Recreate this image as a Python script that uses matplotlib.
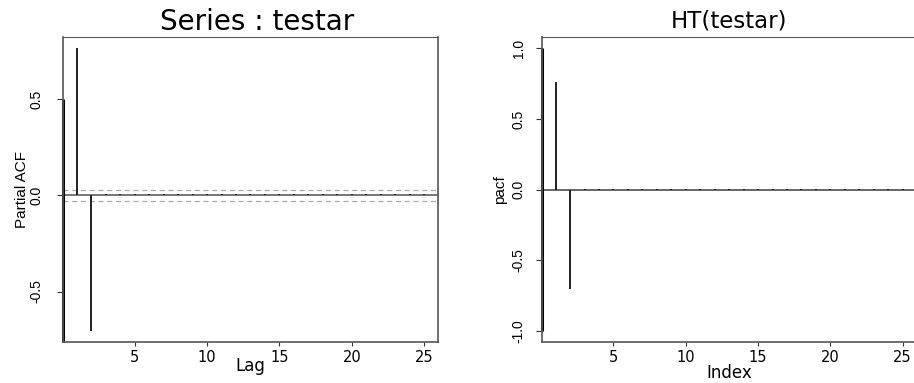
import matplotlib
matplotlib.use("Agg")
import matplotlib.pyplot as plt

# partial autocorrelations of testar, lags 1..25
lags = list(range(1, 26))
pacf_left = [0.766, -0.704, 0.006, 0.006, 0.006, 0.006, 0.006, 0.006, 0.006,
             0.006, 0.006, 0.006, 0.006, 0.006, 0.006, 0.006, 0.006, 0.006,
             0.006, 0.006, 0.006, 0.006, 0.006, 0.006, 0.006]
pacf_right = [0.760, -0.703, 0.006, 0.006, 0.006, 0.006, 0.006, 0.006, 0.006,
              0.006, 0.006, 0.006, 0.006, 0.006, 0.006, 0.006, 0.006, 0.006,
              0.006, 0.006, 0.006, 0.006, 0.006, 0.006, 0.006]
ci = 0.029

left_yticks = [-0.5, 0.0, 0.5]
left_yticklabels = ["-0.5", "0.0", "0.5"]
right_yticks = [-1.0, -0.5, 0.0, 0.5, 1.0]
right_yticklabels = ["-1.0", "-0.5", "0.0", "0.5", "1.0"]
xticks = [5, 10, 15, 20, 25]

WIDE = "DejaVu Sans"
NARROW = "Liberation Sans"


def rng(lo, hi):
    d = (hi - lo) * 0.04
    return lo - d, hi + d


def style(ax, yticks, ytl, ypad):
    for s in ax.spines.values():
        s.set_color("#555555")
        s.set_linewidth(1.2)
    ax.spines["top"].set_linewidth(0.8)
    ax.set_xticks(xticks)
    ax.set_xticklabels([str(t) for t in xticks], fontfamily=WIDE, fontsize=10.5)
    ax.set_yticks(yticks)
    ax.set_yticklabels(ytl, rotation=90, va="center", fontfamily=NARROW, fontsize=10)
    ax.tick_params(axis="x", length=3, pad=3, color="#333333")
    ax.tick_params(axis="y", length=4, pad=ypad, color="#333333")


fig = plt.figure(figsize=(9.14, 3.83), dpi=100)

# left: Series : testar
ax1 = fig.add_axes([0.0689, 0.1070, 0.4103, 0.7963])
ax1.vlines(lags, 0, pacf_left, color="#222222", linewidth=1.4)
ax1.axhline(0, color="#777777", linewidth=1.4, zorder=0)
ax1.axhline(ci, color="#aaaaaa", linewidth=0.9, linestyle=(0, (4, 3)), zorder=0)
ax1.axhline(-ci, color="#aaaaaa", linewidth=0.9, linestyle=(0, (4, 3)), zorder=0)
ax1.set_xlim(*rng(lags[0], lags[-1]))
y0, y1 = rng(min(pacf_left), max(pacf_left))
ax1.set_ylim(y0, y1)
ax1.plot([lags[0] - 0.96, lags[0] - 0.96], [max(left_yticks), y0], color="black",
         linewidth=2.2, clip_on=False, solid_capstyle="butt")
style(ax1, left_yticks, left_yticklabels, 10)
ax1.set_title("Series : testar", fontfamily=WIDE, fontsize=20, x=0.517, pad=5)
ax1.text(0.5, -0.08, "Lag", transform=ax1.transAxes, ha="center", va="center",
         fontfamily=WIDE, fontsize=12)
ax1.text(-0.11, 0.5, "Partial ACF", transform=ax1.transAxes, rotation=90,
         ha="center", va="center", fontfamily=NARROW, fontsize=11)

# right: HT(testar)
ax2 = fig.add_axes([0.5927, 0.1070, 0.4101, 0.7963])
ax2.vlines(lags, 0, pacf_right, color="#222222", linewidth=1.4)
ax2.axhline(0, color="#666666", linewidth=1.4, zorder=0)
ax2.set_xlim(*rng(lags[0], lags[-1]))
ax2.set_ylim(*rng(-1.0, 1.0))
ax2.plot([lags[0] - 0.96, lags[0] - 0.96], [1.0, -1.0], color="black",
         linewidth=2.2, clip_on=False, solid_capstyle="butt")
style(ax2, right_yticks, right_yticklabels, 7.5)
ax2.set_title("HT(testar)", fontfamily=WIDE, fontsize=16.5, x=0.499, pad=7)
ax2.text(0.5, -0.1, "Index", transform=ax2.transAxes, ha="center", va="center",
         fontfamily=WIDE, fontsize=12)
ax2.text(-0.112, 0.5, "pacf", transform=ax2.transAxes, rotation=90,
         ha="center", va="center", fontfamily=NARROW, fontsize=11)

fig.savefig("out.png", dpi=100)
